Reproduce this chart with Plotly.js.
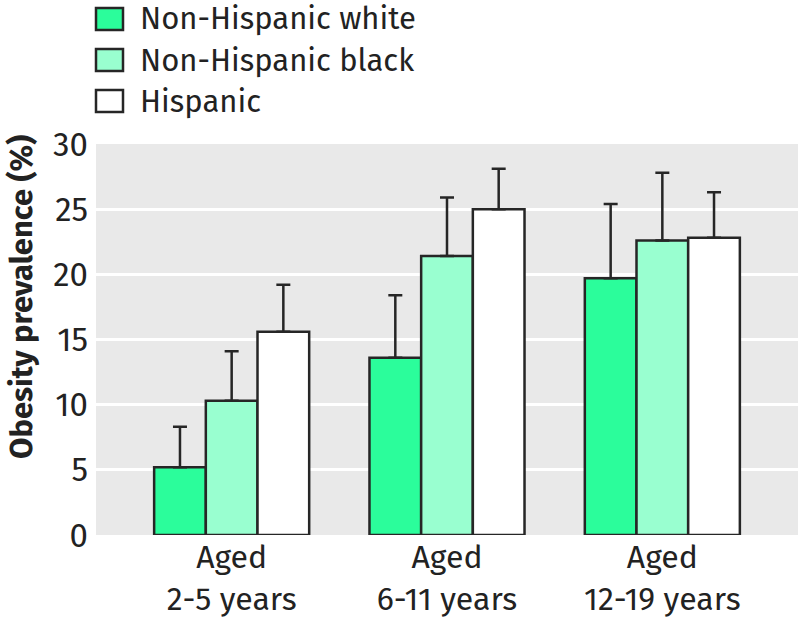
<!DOCTYPE html>
<html>
<head>
<meta charset="utf-8">
<script src="https://cdn.plot.ly/plotly-3.0.1.min.js"></script>
<style>
  body { margin: 0; background: #fff; }
  #chart { width: 802px; height: 617px; }
</style>
</head>
<body>
<div id="chart"></div>
<script>
// age groups on the x axis
var groups = ["2-5", "6-11", "12-19"];
var groupLabels = ["Aged<br>2-5 years", "Aged<br>6-11 years", "Aged<br>12-19 years"];

// obesity prevalence (%) and upper limit of the interval
var whiteVals = [5.2, 13.6, 19.7];
var whiteUpper = [8.3, 18.4, 25.4];
var blackVals = [10.3, 21.4, 22.6];
var blackUpper = [14.1, 25.9, 27.8];
var hispVals = [15.6, 25.0, 22.8];
var hispUpper = [19.2, 28.1, 26.3];

var seriesNames = ["Non-Hispanic white", "Non-Hispanic black", "Hispanic"];
var seriesColors = ["#2bfd9b", "#99ffd0", "#ffffff"];

var fontFam = '"Fira Sans", "Noto Sans", "Open Sans", sans-serif';

function diff(up, v) {
  var out = [];
  for (var i = 0; i < v.length; i++) out.push(+(up[i] - v[i]).toFixed(2));
  return out;
}

function makeTrace(name, vals, upper, color) {
  return {
    type: "bar",
    name: name,
    x: groups,
    y: vals,
    marker: { color: color, line: { color: "#262626", width: 2.5 } },
    error_y: {
      type: "data",
      symmetric: false,
      array: diff(upper, vals),
      arrayminus: vals.map(function () { return 0; }),
      color: "#262626",
      thickness: 2.5,
      width: 7
    },
    showlegend: false,
    hoverinfo: "y"
  };
}

var data = [
  makeTrace(seriesNames[0], whiteVals, whiteUpper, seriesColors[0]),
  makeTrace(seriesNames[1], blackVals, blackUpper, seriesColors[1]),
  makeTrace(seriesNames[2], hispVals, hispUpper, seriesColors[2])
];

// legend drawn by hand so the swatches can be as large as in the original
var shapes = [];
var annotations = [];
for (var k = 0; k < seriesNames.length; k++) {
  var yc = 19 + k * 41;
  shapes.push({
    type: "rect", xref: "paper", yref: "paper",
    x0: (96 - 96) / 702, x1: (123 - 96) / 702,
    y0: (535 - (yc + 11)) / 391, y1: (535 - (yc - 11)) / 391,
    fillcolor: seriesColors[k],
    line: { color: "#262626", width: 2.5 }
  });
  annotations.push({
    xref: "paper", yref: "paper",
    x: (138 - 96) / 702, y: (535 - yc) / 391,
    xanchor: "left", yanchor: "middle",
    text: seriesNames[k], showarrow: false,
    font: { family: fontFam, size: 31, color: "#222" }
  });
}

// y axis title placed by hand
annotations.push({
  xref: "paper", yref: "paper",
  x: (21 - 96) / 702, y: (535 - 297) / 391,
  xanchor: "center", yanchor: "middle",
  textangle: -90,
  text: "<b>Obesity prevalence (%)</b>", showarrow: false,
  font: { family: fontFam, size: 31, color: "#222" }
});

var layout = {
  width: 802,
  height: 617,
  margin: { l: 96, r: 4, t: 144, b: 82 },
  paper_bgcolor: "#ffffff",
  plot_bgcolor: "#e9e9e9",
  barmode: "group",
  bargap: 0.28,
  bargroupgap: 0,
  showlegend: false,
  font: { family: fontFam, color: "#222" },
  xaxis: {
    type: "category",
    range: [-0.63, 2.63],
    tickvals: groups,
    ticktext: groupLabels,
    tickfont: { size: 32, color: "#222" },
    showgrid: false,
    zeroline: false,
    showline: false,
    ticks: "",
    ticklabelstandoff: 0,
    fixedrange: true
  },
  yaxis: {
    range: [0, 30],
    dtick: 5,
    tickfont: { size: 33, color: "#222" },
    showgrid: true,
    gridcolor: "#ffffff",
    gridwidth: 3,
    zeroline: false,
    showline: false,
    ticks: "",
    ticklabelstandoff: 7,
    fixedrange: true
  },
  shapes: shapes,
  annotations: annotations
};

Plotly.newPlot("chart", data, layout, { displayModeBar: false, staticPlot: true });
</script>
</body>
</html>
